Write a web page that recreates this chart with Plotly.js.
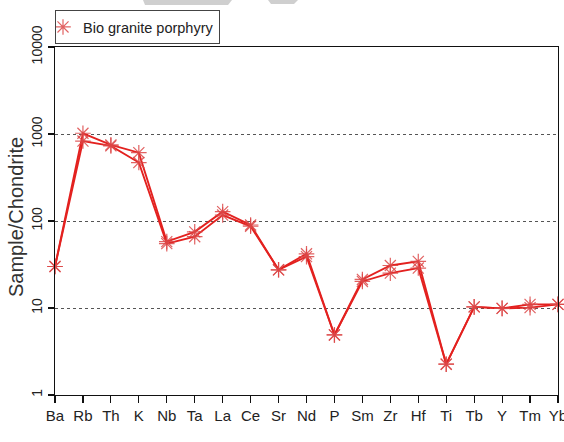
<!DOCTYPE html>
<html>
<head>
<meta charset="utf-8">
<script src="https://cdn.plot.ly/plotly-3.0.1.min.js"></script>
<style>html,body{margin:0;padding:0;background:#fff;}#chart{width:564px;height:442px;}</style>
</head>
<body>
<div id="chart"></div>
<script>
const elements = ["Ba","Rb","Th","K","Nb","Ta","La","Ce","Sr","Nd","P","Sm","Zr","Hf","Ti","Tb","Y","Tm","Yb"];
const sampleA = [30, 1020, 750, 610, 58, 75, 128, 90, 27.5, 42, 4.9, 21.3, 30.8, 34.3, 2.26, 10.3, 9.9, 11.0, 11.0];
const sampleB = [30, 830, 730, 470, 55, 66, 117, 87, 27.5, 39, 4.9, 20.2, 25.2, 28.8, 2.26, 10.3, 9.9, 10.1, 11.0];
const yTickVals = [1, 10, 100, 1000, 10000];
const yTickText = ["1", "10", "100", "1000", "10000"];
const seriesName = "Bio granite porphyry";
const yTitle = "Sample/Chondrite";

const lineColor = "#e3211f";
const markerStyle = {symbol: "asterisk-open", size: 13, line: {color: "rgba(220,70,70,0.85)", width: 1.2}, color: "rgba(220,70,70,0.85)"};

const traces = [
  {x: elements, y: sampleA, type: "scatter", mode: "lines", line: {color: lineColor, width: 1.9}, showlegend: false, cliponaxis: false},
  {x: elements, y: sampleB, type: "scatter", mode: "lines", line: {color: lineColor, width: 1.9}, showlegend: false, cliponaxis: false},
  {x: elements, y: sampleA, type: "scatter", mode: "markers", name: seriesName, marker: markerStyle, cliponaxis: false, showlegend: true},
  {x: elements, y: sampleB, type: "scatter", mode: "markers", name: seriesName, marker: markerStyle, cliponaxis: false, showlegend: false}
];

const W = 503, H = 348, L = 55, B = 395;
function px(x) { return (x - L) / W; }
function py(y) { return (B - y) / H; }

const layout = {
  width: 564, height: 442,
  margin: {l: 55, r: 6, t: 47, b: 47},
  paper_bgcolor: "#fff", plot_bgcolor: "#fff",
  font: {family: "Liberation Sans, Arial, sans-serif", color: "#222"},
  showlegend: true,
  legend: {x: 0, y: py(10), xanchor: "left", yanchor: "top", bgcolor: "#fff",
           bordercolor: "#444", borderwidth: 1, font: {size: 14.5, color: "#222"},
           itemwidth: 30, indentation: -13},
  xaxis: {type: "category", range: [0, 18], showgrid: false, zeroline: false,
          showline: true, linecolor: "#111", linewidth: 1.2, mirror: true,
          ticks: "outside", ticklen: 7, tickcolor: "#111", tickwidth: 1.2,
          tickfont: {size: 15, color: "#222"}},
  yaxis: {type: "log", range: [0, 4], tickvals: yTickVals, ticktext: yTickText, tickangle: -90,
          showgrid: true, gridcolor: "#555", griddash: "dot", gridwidth: 1, zeroline: false,
          showline: true, linecolor: "#111", linewidth: 1.2, mirror: true,
          ticks: "outside", ticklen: 6, tickcolor: "#111", tickwidth: 1.2,
          tickfont: {size: 14, color: "#222"}},
  annotations: [
    {text: yTitle, xref: "paper", yref: "paper", x: px(16), y: py(217), xanchor: "center", yanchor: "middle",
     textangle: -90, showarrow: false, font: {size: 20, color: "#333"}}
  ],
  shapes: [
    {type: "path", xref: "paper", yref: "paper",
     path: `M ${px(143)} ${py(0)} L ${px(232)} ${py(0)} L ${px(228)} ${py(5)} L ${px(145)} ${py(5)} Z`,
     fillcolor: "#cfcfcf", line: {width: 0}},
    {type: "path", xref: "paper", yref: "paper",
     path: `M ${px(268)} ${py(0)} L ${px(298)} ${py(0)} L ${px(294)} ${py(4)} L ${px(271)} ${py(4)} Z`,
     fillcolor: "#cfcfcf", line: {width: 0}}
  ]
};

Plotly.newPlot("chart", traces, layout, {displayModeBar: false, staticPlot: true});
</script>
</body>
</html>
